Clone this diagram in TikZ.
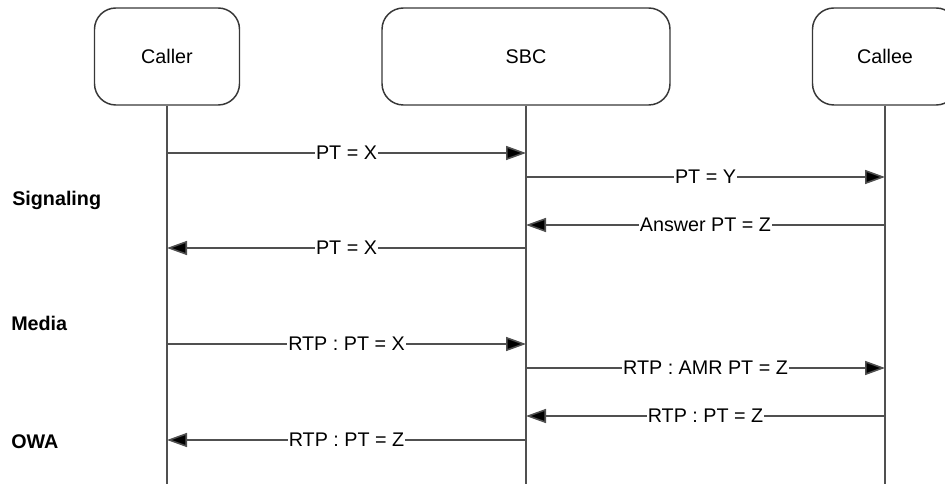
\documentclass[tikz,border=0pt]{standalone}
\usepackage{fontspec}
\setmainfont{Liberation Sans}
\usetikzlibrary{arrows.meta, positioning, calc}
\definecolor{lineGray}{RGB}{80,80,80}
\definecolor{boxGray}{RGB}{55,55,55}

\begin{document}
\begin{tikzpicture}[
    x=0.75pt, y=-0.75pt,
    party/.style={draw=boxGray, line width=1.1pt, rounded corners=16pt,
                  minimum height=72.75pt, font=\fontsize{14.8}{17}\selectfont},
    lifeline/.style={draw=lineGray, line width=1.3pt},
    msg/.style={draw=lineGray, line width=1.2pt,
                -{Triangle[length=15pt, width=10.5pt, fill=black]}},
    msglabel/.style={fill=white, inner sep=0.8pt, text=black,
                     font=\fontsize{14.8}{17}\selectfont},
    phase/.style={anchor=west, inner sep=0pt, font=\fontsize{14.8}{17}\selectfont\bfseries}
]
\clip (0,0) rectangle (945,484);
\node[party, minimum width=108.75pt] (caller) at (167, 56.5) {Caller};
\node[party, minimum width=216pt]    (sbc)    at (526, 56.5) {SBC};
\node[party, minimum width=108.75pt] (callee) at (885, 56.5) {Callee};
\coordinate (callerEnd) at (167, 490);
\coordinate (sbcEnd)    at (526, 490);
\coordinate (calleeEnd) at (885, 490);
\draw[lifeline] (caller.south) -- (callerEnd);
\draw[lifeline] (sbc.south) -- (sbcEnd);
\draw[lifeline] (callee.south) -- (calleeEnd);
\node[phase] (sig) at (12, 200) {Signaling};
\node[phase] (med) at (11, 323) {Media};
\node[phase] (owa) at (11, 442) {OWA};
% signaling
\draw[msg] (caller |- 0,153) -- node[msglabel] {PT = X} (sbc |- 0,153);
\draw[msg] (sbc |- 0,177) -- node[msglabel] {PT = Y} (callee |- 0,177);
\draw[msg] (callee |- 0,225) -- node[msglabel] {Answer PT = Z} (sbc |- 0,225);
\draw[msg] (sbc |- 0,248) -- node[msglabel] {PT = X} (caller |- 0,248);
% media
\draw[msg] (caller |- 0,344) -- node[msglabel] {RTP : PT = X} (sbc |- 0,344);
\draw[msg] (sbc |- 0,368) -- node[msglabel] {RTP : AMR PT = Z} (callee |- 0,368);
\draw[msg] (callee |- 0,416) -- node[msglabel] {RTP : PT = Z} (sbc |- 0,416);
\draw[msg] (sbc |- 0,440) -- node[msglabel] {RTP : PT = Z} (caller |- 0,440);
\end{tikzpicture}
\end{document}
